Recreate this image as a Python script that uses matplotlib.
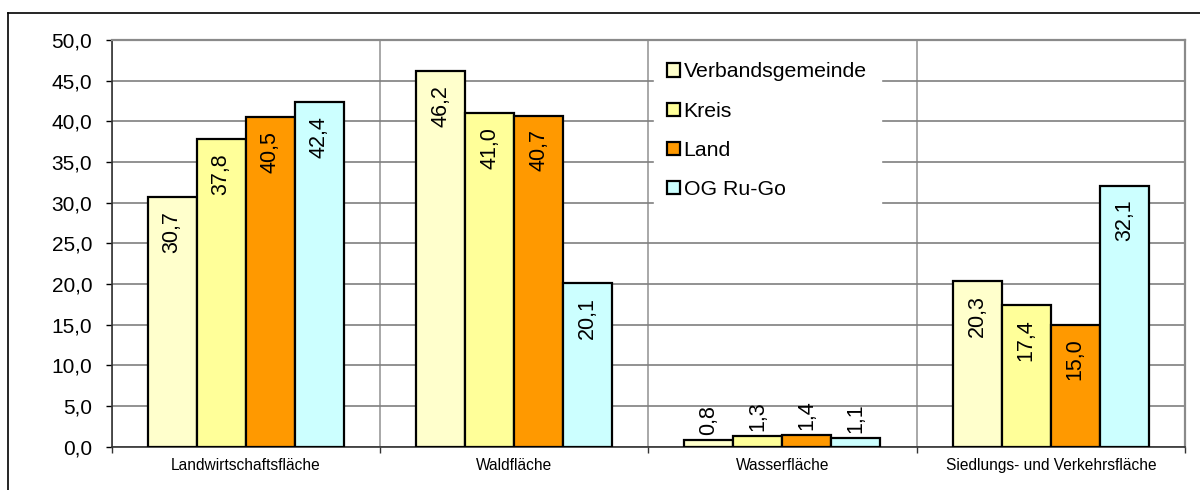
import matplotlib
matplotlib.use("Agg")
import matplotlib.pyplot as plt
from matplotlib.lines import Line2D
from matplotlib.patches import Patch
import numpy as np

# --- data ---------------------------------------------------------------
categories = ["Landwirtschaftsfläche", "Waldfläche", "Wasserfläche",
              "Siedlungs- und Verkehrsfläche"]
series_names = ["Verbandsgemeinde", "Kreis", "Land", "OG Ru-Go"]
verbandsgemeinde = [30.7, 46.2, 0.8, 20.3]
kreis = [37.8, 41.0, 1.3, 17.4]
land = [40.5, 40.7, 1.4, 15.0]
og_rugo = [42.4, 20.1, 1.1, 32.1]
y_ticks = [0, 5, 10, 15, 20, 25, 30, 35, 40, 45, 50]

series = [verbandsgemeinde, kreis, land, og_rugo]
colors = ["#FFFFCC", "#FFFF99", "#FF9900", "#CCFFFF"]

plt.rcParams["font.family"] = ["Liberation Sans", "DejaVu Sans"]

fig = plt.figure(figsize=(12, 4.9), dpi=100)
ax = fig.add_axes([111.5 / 1200, 43.5 / 490, 1073.5 / 1200, 406.5 / 490])

x = np.arange(len(categories))
width = 0.1826

for i, (vals, col) in enumerate(zip(series, colors)):
    pos = x + (i - 1.5) * width
    ax.bar(pos, vals, width, color=col, edgecolor="black", linewidth=1.6,
           zorder=3)
    for xp, v in zip(pos, vals):
        lbl = f"{v:.1f}".replace(".", ",")
        if v >= 5:
            ax.annotate(lbl, (xp, v), xytext=(0, -10), textcoords="offset points",
                        rotation=90, ha="center", va="top", fontsize=15.5,
                        zorder=4)
        else:
            # small bars: label sits just above the bar
            ax.annotate(lbl, (xp, v), xytext=(0, 3.5), textcoords="offset points",
                        rotation=90, ha="center", va="bottom", fontsize=15.5,
                        zorder=4)

# axes, grid
ax.set_xlim(-0.5, 3.5)
ax.set_ylim(0, 50)
ax.set_yticks(y_ticks)
ax.set_yticklabels([f"{t:.1f}".replace(".", ",") for t in y_ticks])
ax.set_xticks(x)
ax.set_xticklabels(categories)
ax.set_xticks([-0.5, 0.5, 1.5, 2.5, 3.5], minor=True)

ax.tick_params(axis="y", length=4.3, width=1.0, pad=9.5, labelsize=15,
               color="black")
ax.tick_params(axis="x", which="major", length=0, pad=8, labelsize=11.2)
ax.tick_params(axis="x", which="minor", length=4.3, width=1.0, color="#333333")

ax.yaxis.grid(True, color="#7f7f7f", linewidth=1.2, zorder=0)
ax.xaxis.grid(True, which="minor", color="#999999", linewidth=1.2, zorder=0)
ax.set_axisbelow(True)

for side in ["left", "bottom"]:
    ax.spines[side].set_color("#333333")
    ax.spines[side].set_linewidth(1.2)
for side in ["top", "right"]:
    ax.spines[side].set_color("#8a8a8a")
    ax.spines[side].set_linewidth(1.6)

# legend
handles = [Patch(facecolor=c, edgecolor="black", linewidth=1.6) for c in colors]
leg = ax.legend(handles, series_names, loc="upper left",
                bbox_to_anchor=(0.511, 0.963), frameon=True, fontsize=15.3,
                handlelength=0.58, handleheight=0.58, handletextpad=0.18,
                labelspacing=0.95, borderpad=0.35, borderaxespad=0)
leg.get_frame().set_edgecolor("white")
leg.get_frame().set_facecolor("white")
leg.get_frame().set_alpha(1)
leg.get_frame().set_boxstyle("square", pad=0.3)
leg.set_zorder(5)

# outer chart frame (left and top edges visible)
fig.add_artist(Line2D([8 / 1200, 8 / 1200], [0, 477 / 490],
                      transform=fig.transFigure, color="black", linewidth=1.2))
fig.add_artist(Line2D([8 / 1200, 1], [477 / 490, 477 / 490],
                      transform=fig.transFigure, color="black", linewidth=1.2))

fig.savefig("out.png", dpi=100, facecolor="white")
